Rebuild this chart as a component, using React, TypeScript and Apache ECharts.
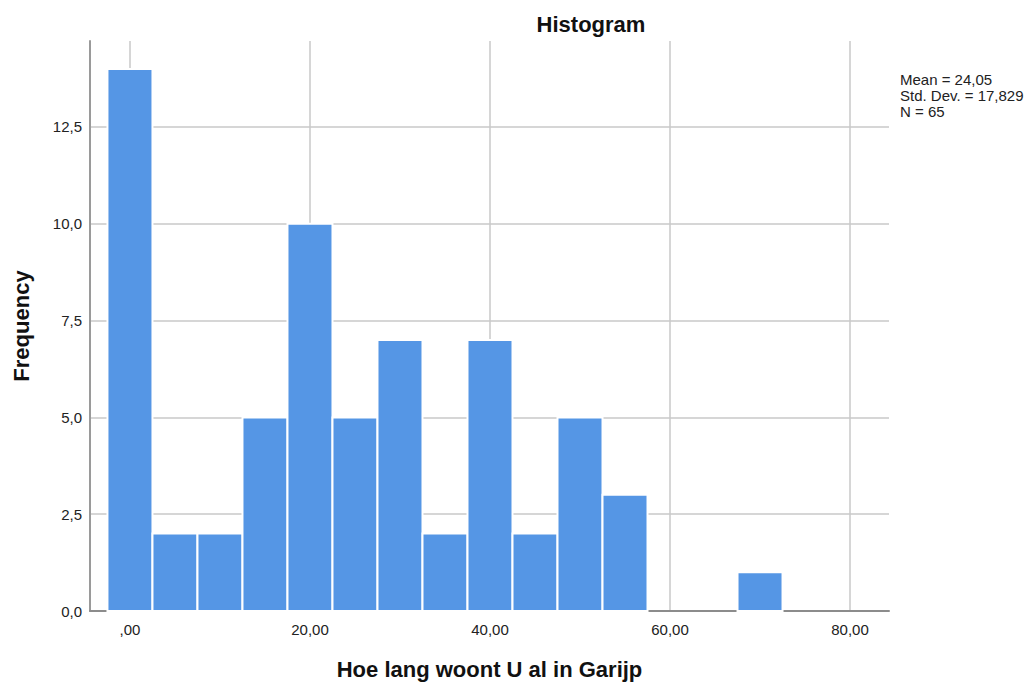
import React, { useEffect, useRef } from "react";
import * as echarts from "echarts";

// Histogram bins (centers) and frequencies
const binCenters = [0, 5, 10, 15, 20, 25, 30, 35, 40, 45, 50, 55, 60, 65, 70, 75];
const frequencies = [14, 2, 2, 5, 10, 5, 7, 2, 7, 2, 5, 3, 0, 0, 1, 0];
const binWidth = 5;

const xTicks = [0, 20, 40, 60, 80];
const yTicks = [0, 2.5, 5, 7.5, 10, 12.5];

const statsLines = ["Mean = 24,05", "Std. Dev. = 17,829", "N = 65"];

const FONT = "'Liberation Sans', Arial, sans-serif";

export default function App() {
  const ref = useRef<HTMLDivElement>(null);

  useEffect(() => {
    if (!ref.current) return;
    const chart = echarts.init(ref.current, null, { renderer: "svg" });
    const data = binCenters.map((c, i) => [c, frequencies[i]]);

    chart.setOption({
      animation: false,
      backgroundColor: "#ffffff",
      title: {
        text: "Histogram",
        left: 586,
        top: 8,
        textAlign: "center",
        textStyle: { fontFamily: FONT, fontSize: 22, fontWeight: "bold", color: "#111" },
      },
      graphic: [
        {
          type: "text",
          left: 900,
          top: 71,
          style: {
            text: statsLines.join("\n"),
            font: `15px ${FONT}`,
            lineHeight: 16,
            fill: "#222",
          },
        },
      ],
      grid: { left: 90, right: 140, top: 41, bottom: 75, containLabel: false, outerBoundsMode: "none" },
      xAxis: {
        type: "value",
        min: -4.44,
        max: 84.33,
        name: "Hoe lang woont U al in Garijp",
        nameLocation: "middle",
        nameGap: 47,
        nameTextStyle: { fontFamily: FONT, fontSize: 22, fontWeight: "bold", color: "#111" },
        axisLine: { show: true, onZero: false, lineStyle: { color: "#8c8c8c", width: 2 } },
        axisTick: { show: false, customValues: xTicks },
        axisLabel: {
          customValues: xTicks,
          margin: 11,
          fontFamily: FONT,
          fontSize: 15,
          color: "#222",
          formatter: (v: number) => (v === 0 ? ",00" : v.toFixed(2).replace(".", ",")),
        },
        splitLine: { show: true, lineStyle: { color: "#c8c8c8", width: 1.5 } },
      },
      yAxis: {
        type: "value",
        min: 0,
        max: 14.72,
        name: "Frequency",
        nameLocation: "middle",
        nameGap: 58,
        nameTextStyle: { fontFamily: FONT, fontSize: 22, fontWeight: "bold", color: "#111" },
        axisLine: { show: true, onZero: false, lineStyle: { color: "#9a9a9a", width: 2 } },
        axisTick: { show: false, customValues: yTicks },
        axisLabel: {
          customValues: yTicks,
          margin: 8,
          fontFamily: FONT,
          fontSize: 15,
          color: "#222",
          formatter: (v: number) => v.toFixed(1).replace(".", ","),
        },
        splitLine: { show: true, lineStyle: { color: "#c8c8c8", width: 1.5 } },
      },
      series: [
        {
          type: "custom",
          data,
          encode: { x: 0, y: 1 },
          renderItem: (params: any, api: any) => {
            const x = api.value(0);
            const y = api.value(1);
            if (!y) return null;
            const p0 = api.coord([x - binWidth / 2, y]);
            const p1 = api.coord([x + binWidth / 2, 0]);
            return {
              type: "rect",
              shape: { x: p0[0], y: p0[1], width: p1[0] - p0[0], height: p1[1] - p0[1] },
              style: { fill: "#5596e5", stroke: "#ffffff", lineWidth: 2 },
            };
          },
        },
      ],
    });

    return () => chart.dispose();
  }, []);

  return (
    <div
      ref={ref}
      style={{ position: "fixed", left: 0, top: 0, width: 1029, height: 686 }}
    />
  );
}
